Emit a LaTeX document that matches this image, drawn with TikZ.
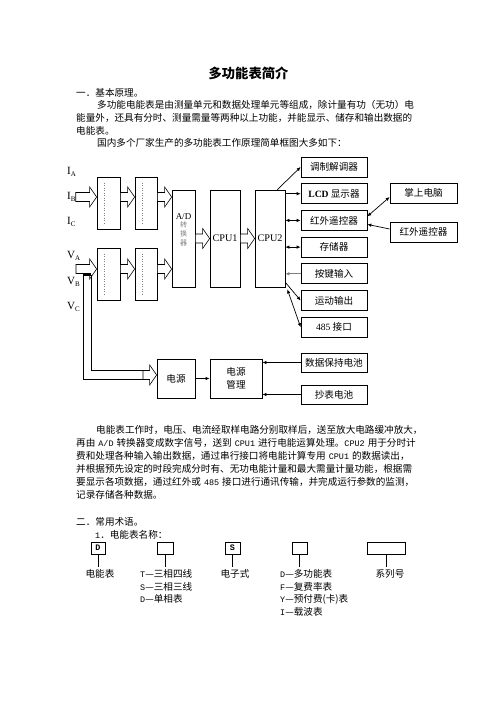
\documentclass[tikz,border=0pt]{standalone}
\usepackage{fontspec}
\setmainfont{Liberation Serif}
\newfontfamily\cjk{Noto Sans CJK SC}
\newfontfamily\lat{Liberation Serif}
\newfontfamily\mono{Liberation Mono}[Scale=0.88]
\usetikzlibrary{arrows.meta,positioning,calc}
\XeTeXlinebreaklocale "zh"
\XeTeXlinebreakskip=0pt plus 1pt
\newcommand\fs{\fontsize{9.6}{12.8}\selectfont}
\newcommand\sub[2]{#1\raisebox{-1.5pt}{\fontsize{7}{7}\selectfont #2}}
\newcommand\ml[1]{\kern3pt{\mono #1}\kern3pt}
% hollow block arrow: start point, end point (horizontal)
\newcommand\fatarrow[2]{\draw[fat] let \p1=#1, \p2=#2 in
  (\x1,\y1+4.5pt) -- (\x2-7pt,\y1+4.5pt) -- (\x2-7pt,\y1+10pt) -- (\x2,\y1)
  -- (\x2-7pt,\y1-10pt) -- (\x2-7pt,\y1-4.5pt) -- (\x1,\y1-4.5pt) -- cycle;}

\begin{document}
\begin{tikzpicture}[x=1pt, y=-1pt,
    txt/.style={anchor=west, inner sep=0pt, font=\cjk\fs},
    blk/.style={draw, line width=0.7pt, inner sep=0pt},
    box/.style={draw, line width=0.7pt, minimum width=66pt, minimum height=20pt,
      inner sep=0pt, font=\cjk\fs},
    sq/.style={draw, line width=0.7pt, minimum height=12pt, inner sep=0pt,
      font=\mono\bfseries\fs},
    fat/.style={draw, line width=0.6pt, fill=white},
    arr/.style={-{Latex[length=4pt,width=3.5pt]}, line width=0.7pt},
    darr/.style={{Latex[length=4pt,width=3.5pt]}-{Latex[length=4pt,width=3.5pt]},
      line width=0.7pt},
    dots/.style={gray, dotted, line width=0.5pt},
    lbl/.style={anchor=west, inner sep=0pt, font=\lat\fontsize{11}{11}\selectfont}
  ]
  \fill[white] (0,0) rectangle (496,702);
  \useasboundingbox (0,0) rectangle (496,702);

  % heading and first section
  \node[inner sep=0pt, font=\cjk\bfseries\fontsize{13.3}{15}\selectfont] (title) at (248.5,73) {多功能表简介};
  \node[txt] (s1) at (76,93) {一．基本原理。};
  \node[txt] (p1a) at (97,104.5) {\makebox[326pt][s]{多功能电能表是由测量单元和数据处理单元等组成，除计量有功（无功）电}};
  \node[txt] (p1b) at (76,117.5) {\makebox[347pt][s]{能量外，还具有分时、测量需量等两种以上功能，并能显示、储存和输出数据的}};
  \node[txt] (p1c) at (76,130.5) {电能表。};
  \node[txt] (p1d) at (97,143) {国内多个厂家生产的多功能表工作原理简单框图大多如下：};

  % inputs
  \node[lbl] (lIA) at (67,172) {\sub{I}{A}};
  \node[lbl] (lIB) at (67,197) {\sub{I}{B}};
  \node[lbl] (lIC) at (67,222) {\sub{I}{C}};
  \node[lbl] (lVA) at (67,256) {\sub{V}{A}};
  \node[lbl] (lVB) at (67,282) {\sub{V}{B}};
  \node[lbl] (lVC) at (67,307) {\sub{V}{C}};
  \coordinate (vin) at (76,269);

  % sampling and amplifier stages
  \node[blk, minimum width=23pt, minimum height=52pt] (up1) at (108.5,203) {};
  \node[blk, minimum width=22pt, minimum height=52pt] (up2) at (146,203) {};
  \node[blk, minimum width=23pt, minimum height=52pt] (lo1) at (108.5,274) {};
  \node[blk, minimum width=22pt, minimum height=52pt] (lo2) at (146,274) {};
  \foreach \b in {up1,up2,lo1,lo2}
    \draw[dots] ([xshift=-4pt,yshift=-6pt]\b.north) -- ([xshift=-4pt,yshift=6pt]\b.south);

  \node[blk, minimum width=23pt, minimum height=97pt] (ad) at (183.5,238.5) {};
  \node[inner sep=0pt, below=24pt of ad.north, font=\lat\fontsize{9}{9.5}\selectfont] (adlbl) {A/D};
  \node[inner sep=0pt, align=center, below=1pt of adlbl, text=gray, font=\cjk\fontsize{7}{9}\selectfont] (adsub) {转\\换\\器};
  \node[blk, minimum width=30pt, minimum height=97pt, font=\lat\fontsize{10.2}{11}\selectfont] (cpua) at (225,238.5) {CPU1};
  \node[blk, minimum width=30pt, minimum height=97pt, font=\lat\fontsize{10.2}{11}\selectfont] (cpub) at (270,238.5) {CPU2};

  \fatarrow{(lIB.east)}{(up1.west)}
  \fatarrow{(up1.east |- lIB)}{(up2.west)}
  \fatarrow{(up2.east |- lIB)}{(ad.west)}
  \fatarrow{(vin)}{(lo1.west)}
  \fatarrow{(lo1.east |- vin)}{(lo2.west)}
  \fatarrow{(lo2.east |- vin)}{(ad.west)}
  \fatarrow{(ad.east)}{(cpua.west)}
  \fatarrow{(cpua.east)}{(cpub.west)}

  % peripherals of CPU2
  \node[box] (mod) at (334,167) {调制解调器};
  \node[box, below=6pt of mod] (lcd) {{\lat\bfseries LCD} 显示器};
  \node[box, below=6pt of lcd] (ir) {红外遥控器};
  \node[box, below=6pt of ir] (mem) {存储器};
  \node[box, below=6pt of mem] (key) {按键输入};
  \node[box, below=6pt of key] (mot) {运动输出};
  \node[box, below=6pt of mot] (rs) {{\lat 485} 接口};
  \node[box, minimum width=67pt] (palm) at (423.5,193) {掌上电脑};
  \node[box, minimum width=67pt] (irr) at (423.5,232) {红外遥控器};

  \draw[arr] ([xshift=-8pt]cpub.north east) -- (mod.west);
  \draw[arr] (cpub.east |- lcd) -- (lcd.west);
  \draw[darr] (cpub.east |- ir) -- (ir.west);
  \draw[darr] (cpub.east |- mem) -- (mem.west);
  \draw[arr, gray] (key.west) -- (cpub.east |- key);
  \draw[arr] ([yshift=5pt]cpub.south east) -- (mot.west);
  \draw[darr] ([shift={(2pt,-2pt)}]cpub.south east) -- (rs.west);
  \draw[darr] ([yshift=4pt]ir.east) -- ([yshift=-4pt]palm.west);
  \draw[arr] ([yshift=3pt]irr.west) -- ([yshift=-4pt]ir.east);

  % power supply
  \node[blk, minimum width=38pt, minimum height=39pt, font=\cjk\fs] (psu) at (176,378.5) {电源};
  \node[blk, minimum width=52pt, minimum height=39pt, font=\cjk\fs, align=center] (pmg) at (236,378.5) {电源\\管理};
  \node[box, minimum height=19pt] (bat1) at (334,362.5) {数据保持电池};
  \node[box, minimum height=19pt] (bat2) at (334,394.5) {抄表电池};
  \coordinate (pin) at (143,375);
  \fill (83,272.5) rectangle (91,276);
  \draw[line width=0.7pt] (83,275) |- ([yshift=-4.5pt]pin);
  \draw[line width=0.7pt] (91,275) |- ([yshift=4.5pt]pin);
  \fatarrow{(pin)}{(psu.west)}
  \draw[arr] (psu.east) -- (pmg.west);
  \draw[arr] (bat1.west) -- (pmg.east |- bat1.west);
  \draw[arr] (bat2.west) -- (pmg.east |- bat2.west);

  % working principle text
  \node[txt] (p2a) at (96,430) {\makebox[327pt][s]{电能表工作时，电压、电流经取样电路分别取样后，送至放大电路缓冲放大，}};
  \node[txt] (p2b) at (76,443) {\makebox[347pt][s]{再由\ml{A/D}转换器变成数字信号，送到\ml{CPU1}进行电能运算处理。{\mono CPU2}\kern3pt 用于分时计}};
  \node[txt] (p2c) at (76,456) {\makebox[347pt][s]{费和处理各种输入输出数据，通过串行接口将电能计算专用\ml{CPU1}的数据读出，}};
  \node[txt] (p2d) at (76,468.5) {\makebox[347pt][s]{并根据预先设定的时段完成分时有、无功电能计量和最大需量计量功能，根据需}};
  \node[txt] (p2e) at (76,481.5) {\makebox[347pt][s]{要显示各项数据，通过红外或\ml{485}接口进行通讯传输，并完成运行参数的监测，}};
  \node[txt] (p2f) at (76,494.5) {记录存储各种数据。};

  % second section: meter name
  \node[txt] (s2) at (76,521.5) {二．常用术语。};
  \node[txt] (s2a) at (95,534.5) {{\mono 1}．电能表名称：};
  \node[sq, minimum width=14pt] (n1) at (98,548) {D};
  \node[sq, minimum width=16pt] (n2) at (165,548) {};
  \node[sq, minimum width=15pt] (n3) at (232.5,548) {S};
  \node[sq, minimum width=15pt] (n4) at (299.5,548) {};
  \node[sq, minimum width=38pt] (n5) at (386,548) {};
  \node[inner sep=0pt, font=\cjk\fs] (t1) at (100,574) {电能表};
  \node[inner sep=0pt, font=\cjk\fs, anchor=north west, align=left] (t2) at (140,569)
    {{\mono T}—三相四线\\{\mono S}—三相三线\\{\mono D}—单相表};
  \node[inner sep=0pt, font=\cjk\fs] (t3) at (235,574) {电子式};
  \node[inner sep=0pt, font=\cjk\fs, anchor=north west, align=left] (t4) at (280,569)
    {{\mono D}—多功能表\\{\mono F}—复费率表\\{\mono Y}—预付费(卡)表\\{\mono I}—载波表};
  \node[inner sep=0pt, font=\cjk\fs] (t5) at (390,574) {系列号};
  \foreach \b in {n1,n2,n3,n4,n5}
    \draw[line width=0.7pt] (\b.south) -- ++(0,13);
\end{tikzpicture}
\end{document}
